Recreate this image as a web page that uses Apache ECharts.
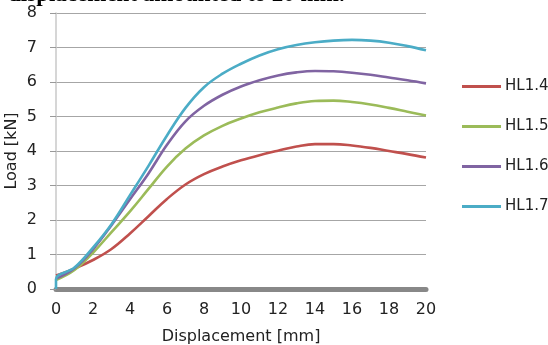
<!DOCTYPE html>
<html><head><meta charset="utf-8">
<script src="https://cdn.jsdelivr.net/npm/echarts@6/dist/echarts.min.js"></script>
<style>html,body{margin:0;padding:0;background:#fff}#c{width:548px;height:345px}</style>
</head><body><div id="c"></div>
<script>
const xs = [0,1,2,3,4,5,6,7,8,9,10,11,12,13,14,15,16,17,18,19,20];
const hl14 = [0.39,0.59,0.84,1.16,1.61,2.11,2.61,3.03,3.33,3.55,3.73,3.88,4.01,4.13,4.20,4.20,4.16,4.09,4.00,3.91,3.81];
const hl15 = [0.26,0.55,1.05,1.65,2.25,2.90,3.55,4.07,4.45,4.73,4.94,5.12,5.26,5.38,5.45,5.46,5.42,5.35,5.25,5.14,5.03];
const hl16 = [0.30,0.60,1.15,1.85,2.60,3.35,4.18,4.86,5.31,5.63,5.87,6.05,6.19,6.28,6.32,6.31,6.27,6.21,6.13,6.05,5.96];
const hl17 = [0.29,0.62,1.20,1.88,2.72,3.57,4.45,5.25,5.85,6.24,6.53,6.77,6.95,7.07,7.15,7.20,7.22,7.20,7.14,7.04,6.92];
const names = ['HL1.4','HL1.5','HL1.6','HL1.7'];
const colors = ['#C0504D','#9BBB59','#8064A2','#4BACC6'];
const xTicks = [0,2,4,6,8,10,12,14,16,18,20];
const yTicks = [0,1,2,3,4,5,6,7,8];
const caption = 'displacement amounted to 20 mm.';

const pairs = v => xs.map((x,i)=>[x,v[i]]);
const all = [hl14,hl15,hl16,hl17];
const chart = echarts.init(document.getElementById('c'));
const font = '"DejaVu Sans", sans-serif';
chart.setOption({
  animation:false,
  backgroundColor:'#fff',
  graphic:[{type:'text', left:8, top:-16, style:{text:caption, font:'bold 23px "Liberation Serif", serif', fill:'#000'}}],
  grid:{left:56,right:122,top:13,bottom:56,outerBoundsMode:'none',containLabel:false},
  legend:{
    orient:'vertical', left:462, top:79, padding:0, itemWidth:39, itemHeight:3, itemGap:25,
    icon:'rect',
    textStyle:{fontFamily:font,fontSize:15,color:'#222',padding:[0,0,0,-1]},
    data:names
  },
  xAxis:{
    type:'value', min:0, max:20, interval:2,
    name:'Displacement [mm]', nameLocation:'middle', nameGap:40,
    nameTextStyle:{fontFamily:font,fontSize:16,color:'#222'},
    axisLine:{show:true,lineStyle:{color:'#888',width:5}},
    axisTick:{show:false},
    axisLabel:{fontFamily:font,fontSize:16,color:'#222',margin:13,
      formatter:v=>xTicks.includes(v)?String(v):''},
    splitLine:{show:false}
  },
  yAxis:{
    type:'value', min:0, max:8, interval:1,
    name:'Load [kN]', nameLocation:'middle', nameGap:36, nameMoveOverlap:false,
    nameTextStyle:{fontFamily:font,fontSize:16,color:'#222'},
    axisLine:{show:true,lineStyle:{color:'#c8c8c8',width:1.5}},
    axisTick:{show:true,length:6,lineStyle:{color:'#999'}},
    axisLabel:{fontFamily:font,fontSize:16,color:'#222',margin:19,
      formatter:v=>yTicks.includes(v)?String(v):''},
    splitLine:{show:true,lineStyle:{color:'#a6a6a6',width:1}}
  },
  series: all.map((v,i)=>({
    name:names[i], type:'line', data: i===3 ? [[0,0]].concat(pairs(v)) : pairs(v),
    smooth:0.4, showSymbol:false, symbol:'none',
    lineStyle:{color:colors[i],width:2.6}, itemStyle:{color:colors[i]}, z:3+i
  }))
});
</script></body></html>
